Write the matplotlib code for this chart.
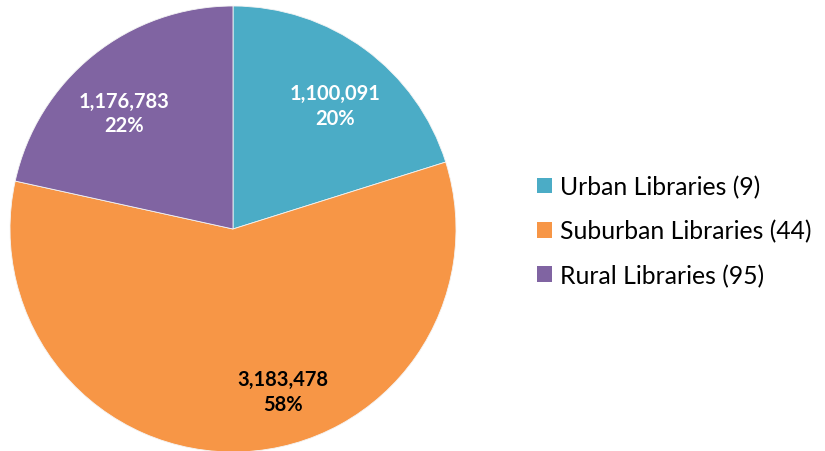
import matplotlib
matplotlib.use("Agg")
import matplotlib.pyplot as plt
from matplotlib.patches import Patch

categories = ["Urban Libraries (9)", "Suburban Libraries (44)", "Rural Libraries (95)"]
values = [1100091, 3183478, 1176783]
colors = ["#4BACC6", "#F79646", "#8064A2"]
label_colors = ["white", "black", "white"]
# label anchor positions in radius units (Excel best-fit placement)
label_pos = [(0.457, 0.555), (0.225, -0.73), (-0.49, 0.52)]

plt.rcParams['font.family'] = ['Lato', 'DejaVu Sans']

fig = plt.figure(figsize=(8.25, 4.52), dpi=100)
ax = fig.add_axes([10/825, -1/452, 446/825, 446/452])
wedges, _ = ax.pie(values, colors=colors, startangle=90, counterclock=False,
                   radius=1.0, wedgeprops=dict(linewidth=0.6, edgecolor="#f4f4f4"))
ax.set_xlim(-1, 1)
ax.set_ylim(-1, 1)
ax.set_aspect("equal")
ax.axis("off")

total = sum(values)
for v, (x, y), c in zip(values, label_pos, label_colors):
    ax.text(x, y, f"{v:,}\n{round(100*v/total):.0f}%", ha="center", va="center",
            color=c, fontsize=14.5, fontweight="bold", linespacing=1.3)

handles = [Patch(facecolor=c, edgecolor="none") for c in colors]
fig.legend(handles, categories, loc="center left", bbox_to_anchor=(515/825, 0.487),
           frameon=False, fontsize=17.8, handlelength=0.6, handleheight=0.6,
           handletextpad=0.3, labelspacing=0.85)

fig.savefig("out.png", dpi=100)
